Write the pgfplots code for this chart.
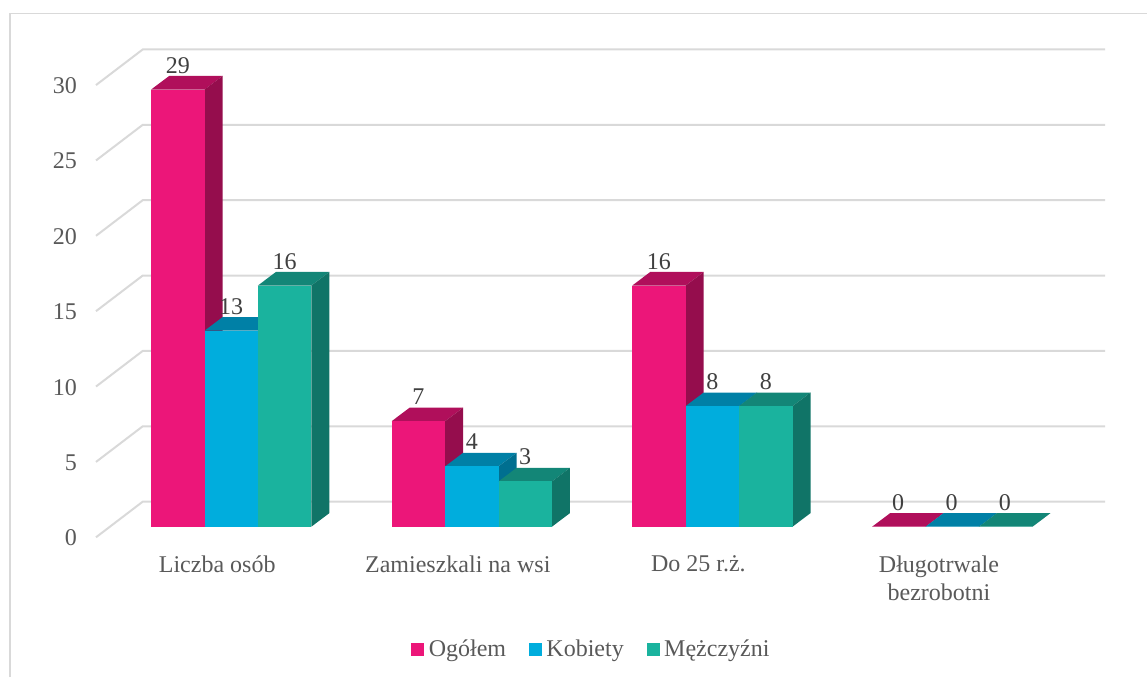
\documentclass[border=0pt]{standalone}
\usepackage{pgfplots}
\pgfplotsset{compat=1.18}
\usepackage{pgfplotstable}
\usepackage{fontspec}
\setmainfont{Liberation Serif}
\definecolor{gridc}{HTML}{D9D9D9}
\definecolor{txt}{HTML}{595959}
\definecolor{lab}{HTML}{404040}
\definecolor{pinkF}{HTML}{EC1679}
\definecolor{pinkT}{HTML}{B00F5B}
\definecolor{pinkS}{HTML}{950D4D}
\definecolor{blueF}{HTML}{00ADDD}
\definecolor{blueT}{HTML}{0080A6}
\definecolor{blueS}{HTML}{006F90}
\definecolor{greenF}{HTML}{1AB39E}
\definecolor{greenT}{HTML}{138677}
\definecolor{greenS}{HTML}{107467}
% one bar: {left edge x}{value}{colour prefix}
\newcommand{\barthree}[3]{%
  \pgfmathsetmacro{\xa}{#1}%
  \pgfmathsetmacro{\xb}{#1+0.222}%
  \pgfmathsetmacro{\xc}{#1+0.222+0.0748}%
  \pgfmathsetmacro{\xd}{#1+0.0748}%
  \pgfmathsetmacro{\yb}{#2+0.9}%
  \edef\temp{%
    \noexpand\addplot[forget plot,fill=#3T,draw=none] coordinates {(\xa,#2) (\xd,\yb) (\xc,\yb) (\xb,#2)} -- cycle;
    \noexpand\addplot[forget plot,fill=#3S,draw=none] coordinates {(\xb,0) (\xc,0.9) (\xc,\yb) (\xb,#2)} -- cycle;
    \noexpand\addplot[forget plot,fill=#3F,draw=none] coordinates {(\xa,0) (\xb,0) (\xb,#2) (\xa,#2)} -- cycle;
  }\temp
}
\newcommand{\gridl}[1]{%
  \pgfmathsetmacro{\ya}{#1-0.703}%
  \pgfmathsetmacro{\yb}{#1+1.658}%
  \edef\temp{\noexpand\addplot[forget plot,gridc,line width=2pt] coordinates {(-0.562,\ya) (-0.368,\yb) (3.632,\yb)};}\temp
}
\begin{document}
\begin{tikzpicture}
\path[use as bounding box] (-96pt,-139.7pt) rectangle (1051pt,537.3pt);
\draw[gridc,line width=1.5pt] (-86pt,-139.7pt) -- (-86pt,523.8pt) -- (1051pt,523.8pt);
\begin{axis}[
  scale only axis, width=1009pt, height=487.8pt,
  xmin=-0.562, xmax=3.632, ymin=-0.703, ymax=31.658,
  clip=false,
  axis line style={draw=none},
  major tick length=0pt,
  tick style={draw=none},
  ytick={0,5,...,30},
  xtick={0,1,2,3},
  xticklabels={Liczba osób,Zamieszkali na wsi,Do 25 r.ż.,{Długotrwale\\bezrobotni}},
  /pgf/number format/assume math mode=true,
  font=\fontsize{24}{28}\selectfont,
  tick label style={text=txt},
  yticklabel style={anchor=east,inner sep=0pt,xshift=-19pt,yshift=-11.3pt},
  xticklabel style={anchor=north,align=center,inner sep=0pt,xshift=-14pt,yshift=-18pt},
  legend columns=3,
  legend style={at={(0.490,-0.229)},anchor=center,draw=none,fill=none,text=txt,
    font=\fontsize{24}{28}\selectfont,
    /tikz/every even column/.append style={column sep=23pt},
    nodes={inner xsep=0pt,inner ysep=1pt}},
  legend image code/.code={\fill[#1] (0pt,-6pt) rectangle (12pt,6pt);},
]
\gridl{0}\gridl{5}\gridl{10}\gridl{15}\gridl{20}\gridl{25}\gridl{30}
% Liczba osób
\barthree{-0.333}{29}{pink}\barthree{-0.111}{13}{blue}\barthree{0.111}{16}{green}
% Zamieszkali na wsi
\barthree{0.667}{7}{pink}\barthree{0.889}{4}{blue}\barthree{1.111}{3}{green}
% Do 25 r.ż.
\barthree{1.667}{16}{pink}\barthree{1.889}{8}{blue}\barthree{2.111}{8}{green}
% Długotrwale bezrobotni
\barthree{2.664}{0}{pink}\barthree{2.886}{0}{blue}\barthree{3.108}{0}{green}
% data labels
\pgfplotsset{every node near coord/.style={anchor=base,inner sep=0pt,yshift=16.5pt,text=lab,font=\fontsize{24}{28}\selectfont}}
\addplot[forget plot,draw=none,mark=none,nodes near coords] coordinates {(-0.222,29) (0.778,7) (1.778,16) (2.772,0)};
\addplot[forget plot,draw=none,mark=none,nodes near coords] coordinates {(0,13) (1,4) (2,8) (2.994,0)};
\addplot[forget plot,draw=none,mark=none,nodes near coords] coordinates {(0.222,16) (1.222,3) (2.222,8) (3.216,0)};
\addlegendimage{pinkF}\addlegendentry{\hspace{5pt}Ogółem}
\addlegendimage{blueF}\addlegendentry{\hspace{5pt}Kobiety}
\addlegendimage{greenF}\addlegendentry{\hspace{5pt}Mężczyźni}
\end{axis}
\end{tikzpicture}
\end{document}
